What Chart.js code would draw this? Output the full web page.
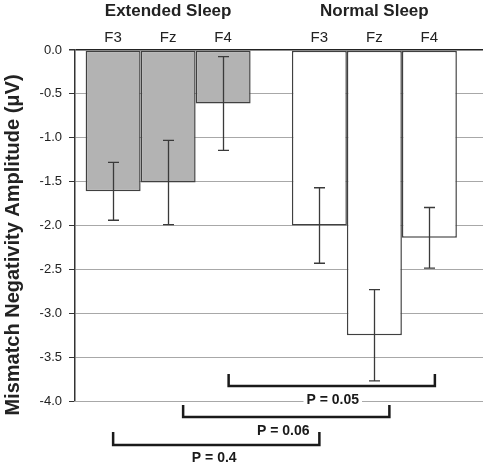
<!DOCTYPE html>
<html><head><meta charset="utf-8">
<script src="https://cdn.jsdelivr.net/npm/chart.js@4/dist/chart.umd.min.js"></script>
<style>html,body{margin:0;padding:0;background:#fff}#wrap{width:484px;height:464px;position:relative}</style>
</head><body><div id="wrap"><canvas id="c"></canvas></div>
<script>
// ---- data ----
const groups = ['Extended Sleep', 'Normal Sleep'];
const electrodes = ['F3', 'Fz', 'F4'];
const extendedMeans = [-1.61, -1.51, -0.61];
const extendedSE = [0.33, 0.48, 0.535];
const normalMeans = [-2.0, -3.25, -2.14];
const normalSE = [0.43, 0.52, 0.345];
const pLabels = ['P = 0.4', 'P = 0.06', 'P = 0.05'];   // per electrode comparison
const yTickValues = [0, -0.5, -1, -1.5, -2, -2.5, -3, -3.5, -4];
const yTitle = 'Mismatch Negativity Amplitude (\u03bcV)';

// ---- styles / layout ----
const FONT = '"Liberation Sans", Arial, Helvetica, sans-serif';
const groupFill = ['#b3b3b3', '#ffffff'];
const bracketLayout = [
  { dx: 0,   lineY: 44,  tick: 13, textY: 57,  tdx: -2 },
  { dx: 15,  lineY: 16,  tick: 12, textY: 30,  tdx: -3 },
  { dx: 5.5, lineY: -15, tick: 12, textY: -1,  tdx: 1 }
];

const seByDataset = electrodes.map((e, i) => [extendedSE[i], normalSE[i]]);

const shiftX = {
  id: 'shiftX',
  afterLayout(chart) {
    const xs = chart.scales.x, a = chart.chartArea;
    xs.left = a.left - 10;
    xs.right = a.right - 5.5;
    xs.configure();
  }
};

const annotations = {
  id: 'annotations',
  afterDatasetsDraw(chart) {
    const ctx = chart.ctx, ys = chart.scales.y;
    ctx.save();
    ctx.strokeStyle = '#3a3a3a';
    ctx.lineWidth = 1.3;
    electrodes.forEach((e, i) => {
      const meta = chart.getDatasetMeta(i);
      meta.data.forEach((bar, j) => {
        const v = chart.data.datasets[i].data[j], se = seByDataset[i][j];
        const yTop = ys.getPixelForValue(v + se), yBot = ys.getPixelForValue(v - se);
        const x = Math.round(bar.x) + 0.5;
        ctx.beginPath();
        ctx.moveTo(x, yTop); ctx.lineTo(x, yBot);
        ctx.moveTo(x - 5.5, yTop); ctx.lineTo(x + 5.5, yTop);
        ctx.moveTo(x - 5.5, yBot); ctx.lineTo(x + 5.5, yBot);
        ctx.stroke();
      });
    });
    ctx.restore();
  },
  afterDraw(chart) {
    const ctx = chart.ctx, a = chart.chartArea;
    ctx.save();
    // group titles and electrode labels
    ctx.fillStyle = '#222';
    ctx.textAlign = 'center';
    ctx.textBaseline = 'alphabetic';
    groups.forEach((g, j) => {
      const xs = electrodes.map((e, i) => chart.getDatasetMeta(i).data[j].x);
      const cx = (xs[0] + xs[xs.length - 1]) / 2;
      ctx.font = 'bold 17px ' + FONT;
      ctx.fillText(g, cx, 16);
      ctx.font = '15px ' + FONT;
      electrodes.forEach((e, i) => ctx.fillText(e, xs[i], 42));
    });
    // y title
    ctx.save();
    ctx.translate(19, 245);
    ctx.rotate(-Math.PI / 2);
    ctx.font = 'bold 20px ' + FONT;
    ctx.fillText(yTitle, 0, 0);
    ctx.restore();
    // significance brackets
    electrodes.forEach((e, i) => {
      const L = bracketLayout[i];
      const x1 = chart.getDatasetMeta(i).data[0].x + L.dx;
      const x2 = chart.getDatasetMeta(i).data[1].x + L.dx;
      const y = a.bottom + L.lineY;
      ctx.strokeStyle = '#1a1a1a';
      ctx.lineWidth = 2.5;
      ctx.lineCap = 'butt';
      ctx.beginPath();
      ctx.moveTo(x1, y - L.tick); ctx.lineTo(x1, y); ctx.lineTo(x2, y); ctx.lineTo(x2, y - L.tick);
      ctx.stroke();
      ctx.font = 'bold 14px ' + FONT;
      const tx = (x1 + x2) / 2 + L.tdx, ty = a.bottom + L.textY;
      const w = ctx.measureText(pLabels[i]).width;
      ctx.fillStyle = '#fff';
      ctx.fillRect(tx - w / 2 - 3, ty - 8, w + 6, 16);
      ctx.fillStyle = '#1a1a1a';
      ctx.textBaseline = 'middle';
      ctx.fillText(pLabels[i], tx, ty + 0.5);
      ctx.textBaseline = 'alphabetic';
    });
    ctx.restore();
  }
};

new Chart(document.getElementById('c'), {
  type: 'bar',
  data: {
    labels: groups,
    datasets: electrodes.map((e, i) => ({
      label: e,
      data: [extendedMeans[i], normalMeans[i]],
      backgroundColor: groupFill,
      borderColor: '#404040',
      borderWidth: 1.5,
      borderSkipped: false,
      categoryPercentage: 0.8,
      barPercentage: 1
    }))
  },
  options: {
    responsive: true,
    maintainAspectRatio: false,
    animation: false,
    devicePixelRatio: 1,
    layout: { padding: { left: 0, top: 50, right: 1, bottom: 63 } },
    plugins: { legend: { display: false }, tooltip: { enabled: false } },
    scales: {
      x: { display: false },
      y: {
        min: -4, max: 0,
        afterBuildTicks: s => { s.ticks = yTickValues.map(v => ({ value: v })); },
        afterFit: s => { s.width = 75; },
        ticks: {
          padding: 7,
          color: '#222',
          font: { family: FONT, size: 13 },
          callback: v => Number(v).toFixed(1)
        },
        grid: {
          color: c => (c.tick && c.tick.value === 0) ? '#222' : '#a8a8a8',
          lineWidth: c => (c.tick && c.tick.value === 0) ? 1.5 : 1,
          tickColor: '#333',
          tickLength: 6
        },
        border: { color: '#333', width: 1.5 }
      }
    }
  },
  plugins: [shiftX, annotations]
});
</script>
</body></html>
